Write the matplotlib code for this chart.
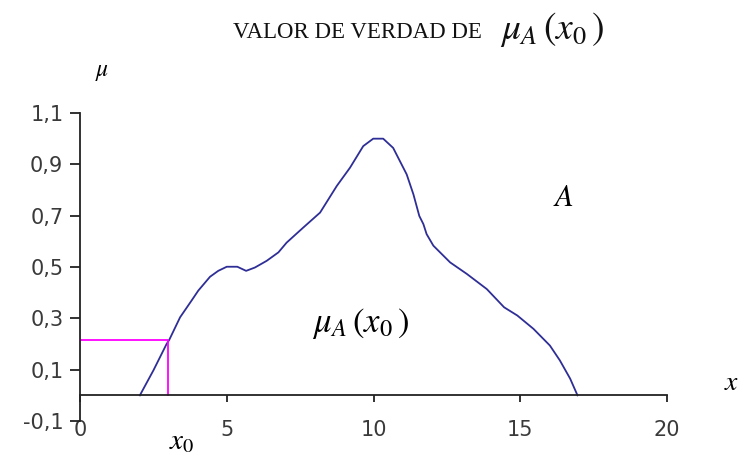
import matplotlib
matplotlib.use("Agg")
import matplotlib.pyplot as plt

plt.rcParams['mathtext.fontset'] = 'stix'

# Membership curve of fuzzy set A
x_vals = [2.04, 2.50, 2.95, 3.04, 3.41, 3.80, 4.03, 4.43, 4.71, 5.00, 5.36,
          5.66, 5.96, 6.36, 6.76, 7.04, 7.61, 8.18, 8.75, 9.20, 9.65, 9.99,
          10.33, 10.67, 11.13, 11.36, 11.56, 11.70, 11.81, 12.04, 12.61, 13.18,
          13.86, 14.45, 14.90, 15.45, 16.01, 16.35, 16.70, 16.90, 16.95]
mu_vals = [0.0, 0.097, 0.200, 0.216, 0.304, 0.369, 0.408, 0.462, 0.485, 0.501,
           0.501, 0.485, 0.498, 0.524, 0.557, 0.595, 0.654, 0.712, 0.816, 0.887,
           0.971, 1.000, 1.000, 0.964, 0.861, 0.783, 0.699, 0.667, 0.628, 0.583,
           0.518, 0.473, 0.414, 0.343, 0.311, 0.259, 0.194, 0.136, 0.065, 0.013,
           0.0]

x0 = 3.0
mu_x0 = 0.214

x_ticks = [0, 5, 10, 15, 20]
y_ticks = [-0.1, 0.1, 0.3, 0.5, 0.7, 0.9, 1.1]
y_labels = ["-0,1", "0,1", "0,3", "0,5", "0,7", "0,9", "1,1"]

fig = plt.figure(figsize=(7.38, 4.59), dpi=100)
ax = fig.add_axes([0.1084, 0.0828, 0.7954, 0.671])

ax.plot(x_vals, mu_vals, color='#2e2e96', lw=1.3)
ax.plot([0, x0, x0], [mu_x0, mu_x0, 0], color='#ff00ff', lw=1.3)

ax.set_xlim(0, 20)
ax.set_ylim(-0.1, 1.1)

for s in ['top', 'right']:
    ax.spines[s].set_visible(False)
ax.spines['bottom'].set_position(('data', 0))
for s in ['left', 'bottom']:
    ax.spines[s].set_linewidth(1.3)
    ax.spines[s].set_color('#222222')

ax.set_xticks(x_ticks)
ax.set_yticks(y_ticks)
ax.set_yticklabels(y_labels)
ax.tick_params(axis='x', direction='out', length=5, width=1.3, pad=13,
               labelsize=15, labelcolor='#3a3a3a', color='#222222')
ax.tick_params(axis='y', direction='out', length=7, width=1.3, pad=5,
               labelsize=15, labelcolor='#3a3a3a', color='#222222')
for lbl in ax.get_xticklabels() + ax.get_yticklabels():
    lbl.set_fontfamily('DejaVu Sans')

# Texts
fig.text(233/738, 1 - 38/459, "VALOR DE VERDAD DE", family='Liberation Serif',
         fontsize=16.5, va='baseline', ha='left', color='#111111')
fig.text(500/738, 1 - 39/459, r"$\mu_A\,(x_0\,)$", fontsize=27, va='baseline',
         ha='left', color='#111111')
fig.text(95/738, 1 - 76/459, r"$\mu$", fontsize=17, va='baseline', ha='left')
fig.text(553/738, 1 - 206/459, r"$A$", fontsize=22, va='baseline', ha='left')
fig.text(312/738, 1 - 332/459, r"$\mu_A\,(x_0\,)$", fontsize=25, va='baseline',
         ha='left')
fig.text(724/738, 1 - 390/459, r"$x$", fontsize=20, va='baseline', ha='left')
fig.text(169/738, 1 - 449/459, r"$x_0$", fontsize=21, va='baseline', ha='left')

fig.savefig("out.png", dpi=100)
